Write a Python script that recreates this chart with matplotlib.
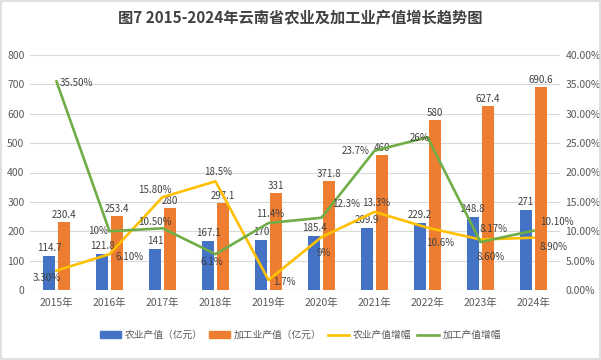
import numpy as np
import matplotlib
matplotlib.use('Agg')
import matplotlib.pyplot as plt
from matplotlib.patches import Rectangle, Patch
from matplotlib.lines import Line2D
from matplotlib.ticker import FuncFormatter

years = ['2015年', '2016年', '2017年', '2018年', '2019年',
         '2020年', '2021年', '2022年', '2023年', '2024年']
agri_value = [114.7, 121.8, 141, 167.1, 170, 185.4, 209.9, 229.2, 248.8, 271]
proc_value = [230.4, 253.4, 280, 297.1, 331, 371.8, 460, 580, 627.4, 690.6]
agri_growth = [3.30, 6.10, 15.80, 18.5, 1.7, 9, 13.3, 10.6, 8.60, 8.90]
proc_growth = [35.50, 10, 10.50, 6.1, 11.4, 12.3, 23.7, 26, 8.17, 10.10]
agri_growth_txt = ['3.30%', '6.10%', '15.80%', '18.5%', '1.7%', '9%', '13.3%', '10.6%', '8.60%', '8.90%']
proc_growth_txt = ['35.50%', '10%', '10.50%', '6.1%', '11.4%', '12.3%', '23.7%', '26%', '8.17%', '10.10%']

# 标签偏移（像素）
agri_off = [(-10, -7), (20, -3), (-8, 7), (3, 9), (16, -2), (2, -16), (2, 9), (13, -15), (10, -18), (20, -9)]
proc_off = [(20, -2), (-11, 0), (-8, 6), (-4, -8), (2, 9), (25, 14), (-19, 0), (-8, -1), (13, 13), (23, 9)]

colors = {
    'agri': '#4472C4',
    'proc': '#ED7D31',
    'agri_g': '#FFC000',
    'proc_g': '#70AD47',
}

plt.rcParams['font.family'] = ['Noto Sans CJK SC', 'DejaVu Sans']
plt.rcParams['axes.unicode_minus'] = False

fig = plt.figure(figsize=(6.01, 3.6), dpi=100)
ax = fig.add_axes([30 / 601, 1 - 290 / 360, 530 / 601, 235 / 360])
ax2 = ax.twinx()

x = np.arange(len(years))
bw = 0.22
ax.bar(x - 0.14, agri_value, bw, color=colors['agri'], zorder=2)
ax.bar(x + 0.14, proc_value, bw, color=colors['proc'], zorder=2)

for i in range(len(years)):
    ax.annotate(f'{agri_value[i]:g}', (x[i] - 0.14, agri_value[i]), xytext=(0, 8),
                textcoords='offset pixels', ha='center', va='center', fontsize=7, color='#404040', zorder=5)
    ax.annotate(f'{proc_value[i]:g}', (x[i] + 0.14, proc_value[i]), xytext=(0, 7),
                textcoords='offset pixels', ha='center', va='center', fontsize=7, color='#404040', zorder=5)

ax2.plot(x, agri_growth, color=colors['agri_g'], linewidth=1.9, zorder=3)
ax2.plot(x, proc_growth, color=colors['proc_g'], linewidth=1.9, zorder=3)
for i in range(len(years)):
    ax2.annotate(agri_growth_txt[i], (x[i], agri_growth[i]), xytext=agri_off[i],
                 textcoords='offset pixels', ha='center', va='center', fontsize=7, color='#404040')
    ax2.annotate(proc_growth_txt[i], (x[i], proc_growth[i]), xytext=proc_off[i],
                 textcoords='offset pixels', ha='center', va='center', fontsize=7, color='#404040')

ax.set_xlim(-0.5, len(years) - 0.5)
ax.set_ylim(0, 800)
ax.set_yticks(np.arange(0, 801, 100))
ax2.set_ylim(0, 40)
ax2.set_yticks(np.arange(0, 41, 5))
ax2.yaxis.set_major_formatter(FuncFormatter(lambda v, p: f'{v:.2f}%'))
ax.set_xticks(x)
ax.set_xticklabels(years)

ax.grid(axis='y', color='#D9D9D9', linewidth=0.8, zorder=0)
ax.set_axisbelow(True)
for a in (ax, ax2):
    for s in ['top', 'left', 'right', 'bottom']:
        a.spines[s].set_visible(False)
    a.tick_params(length=0, labelsize=7.5, colors='#595959')
ax.axhline(0, color='#BFBFBF', linewidth=0.8, zorder=1)
ax.tick_params(axis='y', pad=4)
ax.tick_params(axis='x', pad=6)
ax2.tick_params(axis='y', pad=4)

fig.text(0.5, 1 - 18 / 360, '图7 2015-2024年云南省农业及加工业产值增长趋势图',
         ha='center', va='center', fontsize=11, fontweight='bold', color='#404040')

handles = [Patch(color=colors['agri']), Patch(color=colors['proc']),
           Line2D([], [], color=colors['agri_g'], linewidth=1.9),
           Line2D([], [], color=colors['proc_g'], linewidth=1.9)]
labels = ['农业产值（亿元）', '加工业产值（亿元）', '农业产值增幅', '加工产值增幅']
leg = fig.legend(handles, labels, loc='center', bbox_to_anchor=(0.5, 1 - 335 / 360),
                 ncol=4, frameon=False, fontsize=7, handlelength=2.2, handleheight=0.6,
                 columnspacing=0.6, handletextpad=0.4)
for t in leg.get_texts():
    t.set_color('#595959')

fig.patches.append(Rectangle((0.002, 0.004), 0.996, 0.992, transform=fig.transFigure,
                             fill=False, edgecolor='#D9D9D9', linewidth=1.2))

fig.savefig('out.png', dpi=100, facecolor='white')
